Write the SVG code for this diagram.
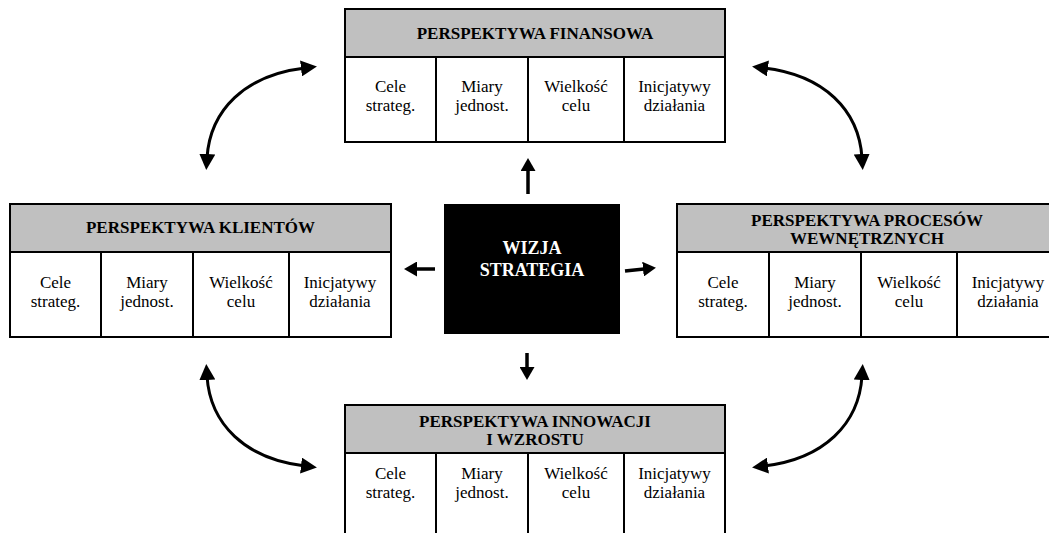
<svg xmlns="http://www.w3.org/2000/svg" width="1049" height="533" viewBox="0 0 1049 533">
<style>
.hdr{fill:#c0c0c0;stroke:#000;stroke-width:2}
.cell{fill:#fff;stroke:#000;stroke-width:2}
.ht{font-family:'Liberation Serif','Times New Roman',serif;font-weight:bold;font-size:17px;fill:#000;text-anchor:middle}
.bt{font-family:'Liberation Serif','Times New Roman',serif;font-size:17px;fill:#000;text-anchor:middle}
.ct{font-family:'Liberation Serif','Times New Roman',serif;font-weight:bold;font-size:18px;fill:#fff;text-anchor:middle}
.arr{fill:none;stroke:#000;stroke-width:3}
.sa{fill:none;stroke:#000;stroke-width:3.5}
</style>
<defs>
<marker id="ah" markerUnits="userSpaceOnUse" markerWidth="16" markerHeight="16" refX="4" refY="8" orient="auto-start-reverse" viewBox="0 0 16 16">
<path d="M0,0 L16,8 L0,16 z" fill="#000"/>
</marker>
<marker id="sh" markerUnits="userSpaceOnUse" markerWidth="13" markerHeight="15" refX="1" refY="7.5" orient="auto" viewBox="0 0 13 15">
<path d="M0,0 L13,7.5 L0,15 z" fill="#000"/>
</marker>
</defs>

<g id="finansowa">
<rect class="hdr" x="345" y="9" width="380" height="48"/>
<rect class="cell" x="345" y="57" width="91" height="85"/>
<rect class="cell" x="436" y="57" width="92" height="85"/>
<rect class="cell" x="528" y="57" width="96" height="85"/>
<rect class="cell" x="624" y="57" width="101" height="85"/>
<text class="ht" x="535" y="39">PERSPEKTYWA FINANSOWA</text>
<text class="bt" x="390.5" y="92">Cele</text><text class="bt" x="390.5" y="111">strateg.</text>
<text class="bt" x="482" y="92">Miary</text><text class="bt" x="482" y="111">jednost.</text>
<text class="bt" x="576" y="92">Wielkość</text><text class="bt" x="576" y="111">celu</text>
<text class="bt" x="674.5" y="92">Inicjatywy</text><text class="bt" x="674.5" y="111">działania</text>
</g>

<g id="klientow">
<rect class="hdr" x="10" y="204" width="381" height="48"/>
<rect class="cell" x="10" y="252" width="91" height="85"/>
<rect class="cell" x="101" y="252" width="92" height="85"/>
<rect class="cell" x="193" y="252" width="96" height="85"/>
<rect class="cell" x="289" y="252" width="102" height="85"/>
<text class="ht" x="200.5" y="233">PERSPEKTYWA KLIENTÓW</text>
<text class="bt" x="55.5" y="288">Cele</text><text class="bt" x="55.5" y="307">strateg.</text>
<text class="bt" x="147" y="288">Miary</text><text class="bt" x="147" y="307">jednost.</text>
<text class="bt" x="241" y="288">Wielkość</text><text class="bt" x="241" y="307">celu</text>
<text class="bt" x="340" y="288">Inicjatywy</text><text class="bt" x="340" y="307">działania</text>
</g>

<g id="procesow">
<rect class="hdr" x="677" y="204" width="384" height="48"/>
<rect class="cell" x="677" y="252" width="92" height="85"/>
<rect class="cell" x="769" y="252" width="92" height="85"/>
<rect class="cell" x="861" y="252" width="96" height="85"/>
<rect class="cell" x="957" y="252" width="104" height="85"/>
<text class="ht" x="867" y="226">PERSPEKTYWA PROCESÓW</text>
<text class="ht" x="867" y="244">WEWNĘTRZNYCH</text>
<text class="bt" x="723" y="288">Cele</text><text class="bt" x="723" y="307">strateg.</text>
<text class="bt" x="815" y="288">Miary</text><text class="bt" x="815" y="307">jednost.</text>
<text class="bt" x="909" y="288">Wielkość</text><text class="bt" x="909" y="307">celu</text>
<text class="bt" x="1008" y="288">Inicjatywy</text><text class="bt" x="1008" y="307">działania</text>
</g>

<g id="innowacji">
<rect class="hdr" x="345" y="405" width="380" height="48"/>
<rect class="cell" x="345" y="453" width="91" height="90"/>
<rect class="cell" x="436" y="453" width="92" height="90"/>
<rect class="cell" x="528" y="453" width="96" height="90"/>
<rect class="cell" x="624" y="453" width="101" height="90"/>
<text class="ht" x="535" y="427">PERSPEKTYWA INNOWACJI</text>
<text class="ht" x="535" y="445">I WZROSTU</text>
<text class="bt" x="390.5" y="479">Cele</text><text class="bt" x="390.5" y="498">strateg.</text>
<text class="bt" x="482" y="479">Miary</text><text class="bt" x="482" y="498">jednost.</text>
<text class="bt" x="576" y="479">Wielkość</text><text class="bt" x="576" y="498">celu</text>
<text class="bt" x="674.5" y="479">Inicjatywy</text><text class="bt" x="674.5" y="498">działania</text>
</g>

<g id="wizja">
<rect x="444" y="204" width="176" height="130" fill="#000"/>
<text class="ct" x="532" y="254">WIZJA</text>
<text class="ct" x="532" y="276">STRATEGIA</text>
</g>

<g id="connectors">
<line class="sa" x1="528" y1="194" x2="528" y2="170" marker-end="url(#sh)"/>
<line class="sa" x1="435" y1="269" x2="416" y2="269" marker-end="url(#sh)"/>
<line class="sa" x1="625" y1="271" x2="644" y2="269" marker-end="url(#sh)"/>
<line class="sa" x1="527" y1="353" x2="527" y2="368" marker-end="url(#sh)"/>
<path class="arr" d="M207,158 C210,110 245,75 305,68" marker-start="url(#ah)" marker-end="url(#ah)"/>
<path class="arr" d="M862,158 C859,110 824,75 764,68" marker-start="url(#ah)" marker-end="url(#ah)"/>
<path class="arr" d="M207,376 C210,424 245,459 305,466" marker-start="url(#ah)" marker-end="url(#ah)"/>
<path class="arr" d="M862,376 C859,424 824,459 764,466" marker-start="url(#ah)" marker-end="url(#ah)"/>
</g>
</svg>
